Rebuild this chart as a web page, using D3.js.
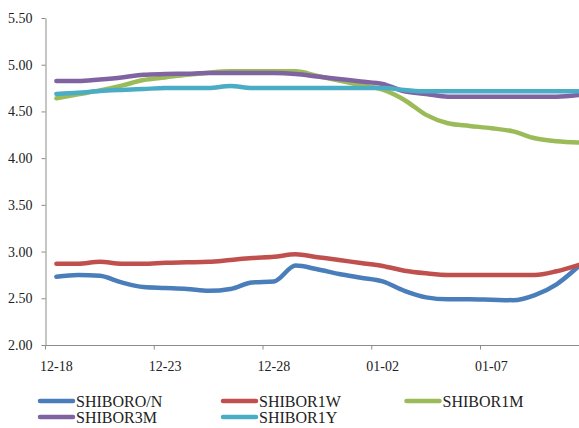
<!DOCTYPE html>
<html>
<head>
<meta charset="utf-8">
<script src="https://cdn.jsdelivr.net/npm/d3@7"></script>
<style>
  html, body { margin: 0; padding: 0; background: #fff; overflow: hidden; }
  svg { display: block; }
  text { font-family: "Liberation Serif", "Times New Roman", serif; fill: #222; }
</style>
</head>
<body>
<svg id="chart" width="579" height="428"></svg>
<script>
// Trading dates on the category axis
const dates = ["12-18","12-19","12-20","12-21","12-22","12-23","12-24","12-25","12-26","12-27",
               "12-28","12-29","12-30","12-31","01-01","01-02","01-03","01-04","01-05","01-06",
               "01-07","01-08","01-09","01-10","01-11"];

// Shibor rates (%) by tenor
const shiborON = [2.73,2.75,2.74,2.67,2.62,2.61,2.60,2.58,2.60,2.67,2.68,2.85,2.81,2.76,2.72,2.68,2.58,2.51,2.49,2.49,2.485,2.48,2.535,2.65,2.84];
const shibor1W = [2.87,2.87,2.89,2.87,2.87,2.88,2.885,2.89,2.91,2.93,2.945,2.97,2.94,2.91,2.877,2.846,2.795,2.767,2.75,2.75,2.75,2.75,2.75,2.79,2.856];
const shibor1M = [4.64,4.683,4.725,4.776,4.836,4.864,4.893,4.915,4.929,4.929,4.929,4.929,4.88,4.83,4.78,4.733,4.623,4.463,4.373,4.345,4.32,4.287,4.213,4.18,4.167];
const shibor3M = [4.826,4.826,4.843,4.864,4.893,4.90,4.904,4.91,4.91,4.91,4.91,4.90,4.874,4.847,4.82,4.794,4.715,4.687,4.658,4.658,4.658,4.658,4.658,4.658,4.676];
const shibor1Y = [4.687,4.70,4.718,4.73,4.74,4.75,4.75,4.75,4.772,4.75,4.75,4.75,4.75,4.75,4.75,4.75,4.73,4.715,4.715,4.715,4.715,4.715,4.715,4.715,4.715];

const seriesNames  = ["SHIBORO/N","SHIBOR1W","SHIBOR1M","SHIBOR3M","SHIBOR1Y"];
const seriesValues = [shiborON, shibor1W, shibor1M, shibor3M, shibor1Y];
const seriesColors = ["#4a7ebb","#c0504d","#9bbb59","#8064a2","#4bacc6"];

const yTicks = [2.0,2.5,3.0,3.5,4.0,4.5,5.0,5.5];
const xLabelEvery = 5;

const svg = d3.select("#chart");
const axisColor = "#8c8c8c";

const left = 45.5, step = 21.75;
const x = d3.scaleBand()
  .domain(dates)
  .range([left, left + step * dates.length])
  .padding(0);
const y = d3.scaleLinear().domain([2, 5.5]).range([345, 18]);
const cx = d => x(d) + x.bandwidth() / 2;

// Y axis
const yAxis = svg.append("g")
  .attr("transform", `translate(${left},0)`)
  .call(d3.axisLeft(y).tickValues(yTicks).tickFormat(d3.format(".2f")).tickSize(4).tickSizeOuter(0).tickPadding(9));
yAxis.select(".domain").attr("stroke", axisColor);
yAxis.selectAll(".tick line").attr("stroke", axisColor);
yAxis.selectAll(".tick text")
  .style("font-family", '"Liberation Serif", "Times New Roman", serif')
  .style("font-size", "14px").attr("fill", "#222");

// X axis: baseline, tick marks between category groups, labels at category centres
const xg = svg.append("g").attr("transform", "translate(0,345.5)");
xg.append("line")
  .attr("x1", left).attr("x2", left + step * dates.length)
  .attr("stroke", axisColor);
xg.selectAll("line.tk")
  .data(dates.filter((d, i) => i > 0 && i % xLabelEvery === 0))
  .join("line").attr("class", "tk")
  .attr("x1", d => x(d)).attr("x2", d => x(d))
  .attr("y1", 0).attr("y2", 4)
  .attr("stroke", axisColor);
xg.append("line").attr("x1", left).attr("x2", left).attr("y1", 0).attr("y2", 4).attr("stroke", axisColor);
xg.selectAll("text")
  .data(dates.filter((d, i) => i % xLabelEvery === 0))
  .join("text")
  .attr("x", d => cx(d)).attr("y", 25)
  .attr("text-anchor", "middle")
  .style("font-size", "14px")
  .text(d => d);

// Series lines
const line = d3.line()
  .x((v, i) => cx(dates[i]))
  .y(v => y(v))
  .curve(d3.curveMonotoneX);

seriesValues.forEach((vals, k) => {
  svg.append("path")
    .datum(vals)
    .attr("fill", "none")
    .attr("stroke", seriesColors[k])
    .attr("stroke-width", 4.5)
    .attr("stroke-linejoin", "round")
    .attr("stroke-linecap", "round")
    .attr("d", line);
});

// Legend: three columns, wrapping rows
const legendCols = [40, 223, 406.5];
const legendRows = [401, 417];
const lg = svg.append("g");
seriesNames.forEach((name, k) => {
  const col = k % 3, row = Math.floor(k / 3);
  const lx = legendCols[col], ly = legendRows[row];
  lg.append("line")
    .attr("x1", lx).attr("x2", lx + 33)
    .attr("y1", ly).attr("y2", ly)
    .attr("stroke", seriesColors[k]).attr("stroke-width", 4.5)
    .attr("stroke-linecap", "round");
  lg.append("text")
    .attr("x", lx + 36).attr("y", ly + 6)
    .style("font-size", "16px")
    .attr("fill", "#111")
    .text(name);
});
</script>
</body>
</html>
